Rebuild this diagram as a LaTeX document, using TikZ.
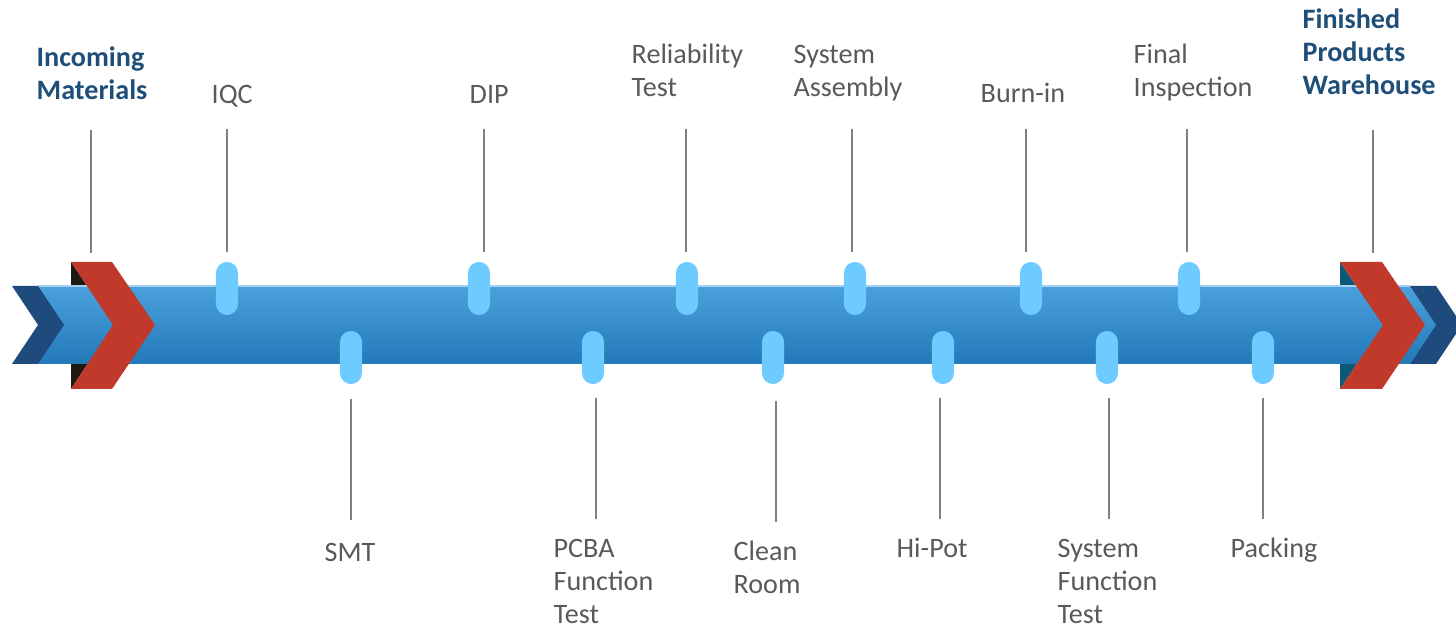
\documentclass[tikz,border=0pt]{standalone}
\usepackage{fontspec}
\setmainfont{Carlito}
\usetikzlibrary{positioning}
\definecolor{barTop}{RGB}{74,161,220}
\definecolor{barBot}{RGB}{35,121,184}
\definecolor{barEdge}{RGB}{165,208,238}
\definecolor{chevBlue}{RGB}{31,74,126}
\definecolor{chevRed}{RGB}{192,57,43}
\definecolor{shadeDark}{RGB}{30,26,18}
\definecolor{shadeTeal}{RGB}{12,88,120}
\definecolor{pillBlue}{RGB}{110,203,255}
\definecolor{leadGray}{RGB}{128,128,128}
\definecolor{textGray}{RGB}{89,89,89}
\definecolor{keyBlue}{RGB}{31,78,121}
\tikzset{
  pill/.style  = {rectangle, rounded corners=1.1mm, fill=pillBlue, minimum width=2.2mm, minimum height=5.3mm, inner sep=0},
  lead/.style  = {draw=leadGray, line width=0.6pt},
  et/.style    = {font=\fontsize{8}{9.4}\selectfont, text=textGray, align=left, inner sep=0, anchor=base west},
  endpt/.style = {et, font=\fontsize{8}{9.4}\selectfont\bfseries, text=keyBlue}
}

\begin{document}
\begin{tikzpicture}[x=0.01cm, y=-0.01cm]

  \useasboundingbox (0,0) rectangle (1456,628);

  % band
  \fill[shadeDark] (71,262) -- (113,325) -- (71,389) -- cycle;
  \fill[shadeTeal] (1340,262) -- (1383,325) -- (1340,389) -- cycle;
  \shade[top color=barTop, bottom color=barBot] (38,286) -- (1410,286) -- (1436,325) -- (1410,364) -- (38,364) -- cycle;
  \draw[barEdge, line width=0.4pt] (38,286) -- (1410,286);
  \fill[chevBlue] (12,286) -- (38,286) -- (64,325) -- (38,364) -- (12,364) -- (38,325) -- cycle;
  \fill[chevBlue] (1410,286) -- (1436,286) -- (1462,325) -- (1436,364) -- (1410,364) -- (1436,325) -- cycle;
  \fill[chevRed] (71,262) -- (112,262) -- (155,325) -- (112,389) -- (71,389) -- (113,325) -- cycle;
  \fill[chevRed] (1340,262) -- (1382,262) -- (1425,325) -- (1382,389) -- (1340,389) -- (1383,325) -- cycle;

  % start and end
  \coordinate (inT) at (91,130);  \coordinate (inB) at (91,253);
  \coordinate (fpT) at (1373,130); \coordinate (fpB) at (1373,253);
  \draw[lead] (inT) -- (inB);
  \draw[lead] (fpT) -- (fpB);
  \node[endpt] (lIn) at (36,100)  {Incoming\\Materials};
  \node[endpt] (lFp) at (1302,95) {Finished\\Products\\Warehouse};

  % steps above the band
  \node[pill] (pIQC) at (227,288.5)  {}; \draw[lead] (pIQC.north) ++(0,-9) -- ++(0,-123); \node[et] (lIQC) at (211,104)  {IQC};
  \node[pill] (pDIP) at (479,288.5)  {}; \draw[lead] (pDIP.north) ++(5,-9) -- ++(0,-123); \node[et] (lDIP) at (469,104)  {DIP};
  \node[pill] (pRel) at (687,288.5)  {}; \draw[lead] (pRel.north) ++(-1,-9) -- ++(0,-123); \node[et] (lRel) at (631,97)  {Reliability\\Test};
  \node[pill] (pAsm) at (855,288.5)  {}; \draw[lead] (pAsm.north) ++(-3,-9) -- ++(0,-123); \node[et] (lAsm) at (793,97)  {System\\Assembly};
  \node[pill] (pBur) at (1031,288.5) {}; \draw[lead] (pBur.north) ++(-5,-9) -- ++(0,-123); \node[et] (lBur) at (980,103) {Burn-in};
  \node[pill] (pFin) at (1189,288.5) {}; \draw[lead] (pFin.north) ++(-2,-9) -- ++(0,-123); \node[et] (lFin) at (1133,97) {Final\\Inspection};

  % steps below the band
  \node[pill] (pSMT) at (351,357.5)  {}; \draw[lead] (pSMT.south) ++(0,14) -- ++(0,121);  \node[et] (lSMT) at (324,562)  {SMT};
  \node[pill] (pPCB) at (593,357.5)  {}; \draw[lead] (pPCB.south) ++(3,13) -- ++(0,121);  \node[et] (lPCB) at (553,624)  {PCBA\\Function\\Test};
  \node[pill] (pCln) at (773,357.5)  {}; \draw[lead] (pCln.south) ++(3,16) -- ++(0,121);  \node[et] (lCln) at (733,594)  {Clean\\Room};
  \node[pill] (pHip) at (943,357.5)  {}; \draw[lead] (pHip.south) ++(-3,13) -- ++(0,121); \node[et] (lHip) at (896,558)  {Hi-Pot};
  \node[pill] (pSft) at (1107,357.5) {}; \draw[lead] (pSft.south) ++(2,13) -- ++(0,121);  \node[et] (lSft) at (1057,624) {System\\Function\\Test};
  \node[pill] (pPak) at (1263,357.5) {}; \draw[lead] (pPak.south) ++(0,13) -- ++(0,121);  \node[et] (lPak) at (1230,558) {Packing};

\end{tikzpicture}
\end{document}
